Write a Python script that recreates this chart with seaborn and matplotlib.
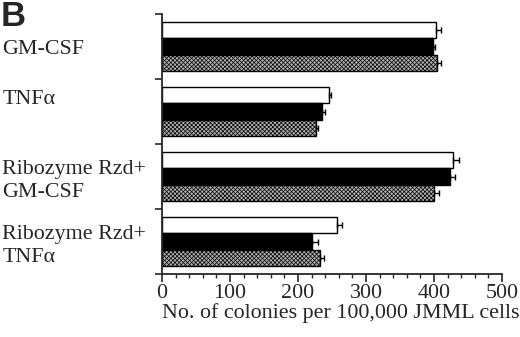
import matplotlib
matplotlib.use("Agg")
import matplotlib.pyplot as plt
import matplotlib.transforms as mtransforms
import seaborn as sns
import pandas as pd
import numpy as np
from matplotlib.ticker import MultipleLocator

categories = ["GM-CSF", "TNFα", "Ribozyme Rzd+\nGM-CSF", "Ribozyme Rzd+\nTNFα"]
series = ["A", "B", "C"]
values_a = [403, 245, 428, 257]
values_b = [398, 236, 424, 221]
values_c = [405, 226, 400, 233]
err_a = [7, 4, 9, 7]
err_b = [4, 4, 7, 8]
err_c = [6, 4, 7, 5]

vals = [values_a, values_b, values_c]
errs = [err_a, err_b, err_c]
rows = []
for s, v in zip(series, vals):
    for c, x in zip(categories, v):
        rows.append({"cat": c, "series": s, "val": x})
df = pd.DataFrame(rows)

sns.set_style("ticks")
plt.rcParams["font.family"] = ["Liberation Serif", "DejaVu Serif"]
plt.rcParams["hatch.linewidth"] = 0.5

fig = plt.figure(figsize=(5.2, 3.37), dpi=100)
ax = fig.add_axes([162 / 520, 1 - 274 / 337, 340 / 520, 260 / 337])

sns.barplot(data=df, y="cat", x="val", hue="series", order=categories,
            hue_order=series, palette=["white", "black", "#b0b0b0"],
            width=0.75, orient="h", edgecolor="black", linewidth=1.0,
            errorbar=None, legend=False, ax=ax, saturation=1)

for cont, e in zip(ax.containers, errs):
    ys = []
    xs = []
    for p in cont.patches:
        ys.append(p.get_y() + p.get_height() / 2)
        xs.append(p.get_width())
    ax.errorbar(xs, ys, xerr=[np.zeros(len(e)), e], fmt="none",
                ecolor="black", elinewidth=1.0, capsize=2.5, capthick=1.0)

for p in ax.containers[2].patches:
    p.set_hatch("xxxxxxxx")

FS = 15.8
ax.set_xlim(0, 500)
ax.set_ylim(3.5, -0.5)
ax.xaxis.set_major_locator(MultipleLocator(100))
ax.xaxis.set_minor_locator(MultipleLocator(20))
ax.tick_params(axis="x", which="major", length=6, width=1.2, labelsize=FS, direction="out", pad=1)
ax.tick_params(axis="x", which="minor", length=3, width=1.0, direction="out")

ax.set_yticks(range(len(categories)))
ax.set_yticklabels(categories, fontsize=FS, linespacing=1.3)
ax.set_yticks(np.arange(-0.5, 4.0, 1.0), minor=True)
ax.tick_params(axis="y", which="major", length=0, pad=115)
ax.tick_params(axis="y", which="minor", length=5, width=1.2, direction="out")
for lab in ax.get_yticklabels():
    lab.set_horizontalalignment("left")
tnf = ax.get_yticklabels()[1]
tnf.set_transform(tnf.get_transform() + mtransforms.ScaledTranslation(0, 0.14, fig.dpi_scale_trans))

ax.set_ylabel("")
ax.set_xlabel("No. of colonies per 100,000 JMML cells", fontsize=FS)
ax.xaxis.label.set_va("center")
ax.xaxis.set_label_coords(178.5 / 340, -(313 - 274) / 260)
for s in ["top", "right"]:
    ax.spines[s].set_visible(False)
for s in ["left", "bottom"]:
    ax.spines[s].set_linewidth(1.3)

fig.text(1 / 520, 1 - 0 / 337, "B", fontsize=25, fontweight="bold",
         family=["Liberation Sans", "DejaVu Sans"], va="top", ha="left")

fig.savefig("out.png", dpi=100)
